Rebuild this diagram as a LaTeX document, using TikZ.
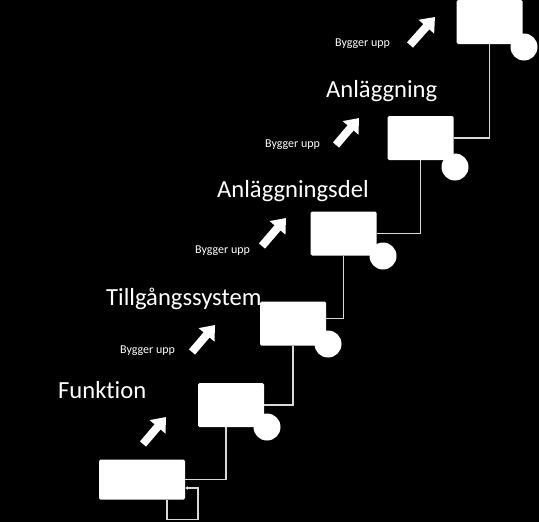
\documentclass[tikz,border=0pt]{standalone}
\usepackage{fontspec}
\setmainfont{Carlito}[Ligatures=NoCommon]
\usepackage{tikz}
\usetikzlibrary{calc,arrows.meta}

\begin{document}
\begin{tikzpicture}[x=1pt, y=-1pt,
  box/.style={fill=white, rounded corners=1.5pt, minimum width=66pt, minimum height=44pt, inner sep=0pt},
  knob/.style={circle, fill=white, minimum size=27pt, inner sep=0pt},
  link/.style={draw=white!85!black, line width=1.2pt},
  level/.style={text=white, font=\fontsize{24.6}{28}\selectfont, inner sep=0pt, anchor=base west},
  small/.style={text=white, font=\fontsize{12}{14}\selectfont, inner sep=0pt, anchor=base west},
  bigarrow/.style={white, line width=8pt, -{Triangle[length=13pt,width=20pt]}}]
  \fill[black] (0,0) rectangle (539,522);
  \useasboundingbox (0,0) rectangle (539,522);
  \node[box, minimum width=86pt, minimum height=40pt] (b1) at (142,479.5) {};
  \node[box] (b2) at (231,405) {};
  \node[box] (b3) at (293,323.5) {};
  \node[box] (b4) at (343.5,233.5) {};
  \node[box] (b5) at (420.5,138) {};
  \node[box] (b6) at (489.5,22) {};
  \node[knob] (c2) at (267,427) {};
  \node[knob] (c3) at (328,344) {};
  \node[knob] (c4) at (383,256) {};
  \node[knob] (c5) at (455,167) {};
  \node[knob] (c6) at (524,47) {};
  \draw[link] (b1.east) -| ($(b2.south)+(-5,0)$);
  \draw[link] (b2.east) -| (b3.south);
  \draw[link] ($(b3.east)+(0,-5)$) -| (b4.south);
  \draw[link] (b4.east) -| (b5.south);
  \draw[link] (b5.east) -| (b6.south);
  \draw[link, -{Stealth[length=3pt,width=4pt]}] ($(b1.south)+(25,0)$) -- ++(0,20) -- ++(31,0) |- ($(b1.east)+(0,8.5)$);
  \node[level] (funk) at (58,398) {Funktion};
  \node[level] (tills) at (106,305) {Tillgångssystem};
  \node[level] (adel) at (217,197) {Anläggningsdel};
  \node[level] (anl) at (326,97) {Anläggning};
  \node[small] (bu1) at (120,353) {Bygger upp};
  \node[small] (bu2) at (195,253) {Bygger upp};
  \node[small] (bu3) at (265,147) {Bygger upp};
  \node[small] (bu4) at (335,46) {Bygger upp};
  \draw[bigarrow] (143,444) -- (166,417);
  \draw[bigarrow] (192,352) -- (215,325);
  \draw[bigarrow] (262,246) -- (286,218);
  \draw[bigarrow] (336,145) -- (359,118);
  \draw[bigarrow] (410,45) -- (435,17);
\end{tikzpicture}
\end{document}
